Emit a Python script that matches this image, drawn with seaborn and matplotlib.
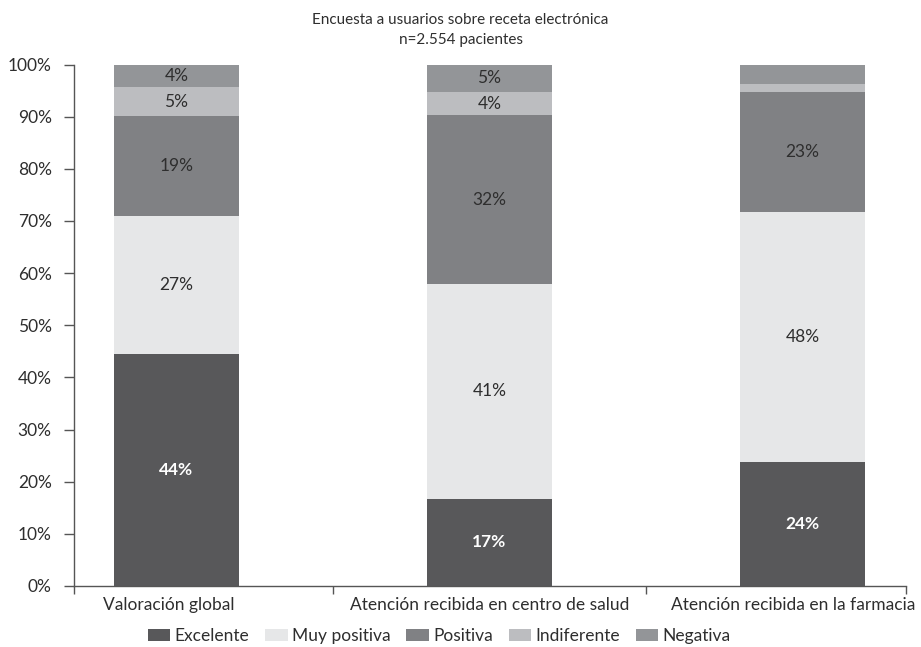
import numpy as np
import pandas as pd
import seaborn as sns
import matplotlib.pyplot as plt
from matplotlib.patches import Patch
from matplotlib.transforms import ScaledTranslation

categories = ["Valoración global",
              "Atención recibida en centro de salud",
              "Atención recibida en la farmacia"]
series = ["Excelente", "Muy positiva", "Positiva", "Indiferente", "Negativa"]
excelente = [44.4, 16.7, 23.8]
muy_positiva = [26.6, 41.2, 47.9]
positiva = [19.2, 32.4, 23.0]
indiferente = [5.4, 4.4, 1.5]
negativa = [4.4, 5.3, 3.8]
y_ticks = [0, 10, 20, 30, 40, 50, 60, 70, 80, 90, 100]
title = "Encuesta a usuarios sobre receta electrónica\nn=2.554 pacientes"

colors = ["#58585a", "#e6e7e8", "#808184", "#bcbdc0", "#939598"]
label_colors = ["white", "#2e2e2e", "#2e2e2e", "#2e2e2e", "#2e2e2e"]
label_weights = ["bold", "normal", "normal", "normal", "normal"]

sns.set_theme(style="white")
plt.rcParams['font.family'] = ['Lato', 'DejaVu Sans']
FS = 12.5

values = [excelente, muy_positiva, positiva, indiferente, negativa]
rows = []
for s, vals in zip(series, values):
    for c, v in zip(categories, vals):
        rows.append({"categoria": c, "serie": s, "valor": v})
df = pd.DataFrame(rows)
df["serie"] = pd.Categorical(df["serie"], categories=series, ordered=True)
df = df.sort_values(["categoria", "serie"])
df["cum"] = df.groupby("categoria", sort=False)["valor"].cumsum()

fig = plt.figure(figsize=(9.21, 6.47), dpi=100)
ax = fig.add_axes([74 / 921, 1 - 586 / 647, (906 - 74) / 921, (586 - 64.5) / 647])

for i in reversed(range(len(series))):
    s = series[i]
    sub = df[df["serie"] == s].set_index("categoria").loc[categories].reset_index()
    sns.barplot(data=sub, x="categoria", y="cum", order=categories, color=colors[i],
                saturation=1, width=0.4, linewidth=0, ax=ax, errorbar=None)
    cont = ax.containers[-1]
    for p, (_, r) in zip(cont.patches, sub.iterrows()):
        if r["valor"] >= 4:
            ax.text(p.get_x() + p.get_width() / 2, r["cum"] - r["valor"] / 2,
                    f"{r['valor']:.0f}%", ha="center", va="center",
                    color=label_colors[i], fontsize=FS, fontweight=label_weights[i])

ax.set_xlim(-0.327, 2.331)
ax.set_ylim(0, 100)
ax.set_yticks(y_ticks)
ax.set_yticklabels([f"{t}%" for t in y_ticks])
ax.set_xlabel("")
ax.set_ylabel("")
ax.set_xticks(range(len(categories)))
ax.set_xticklabels(categories)
ax.set_xticks([-0.327, 0.5, 1.5, 2.331], minor=True)
ax.tick_params(axis="x", which="major", length=0, pad=8, labelsize=FS, labelcolor="#2e2e2e")
ax.tick_params(axis="x", which="minor", length=6, width=1, color="#555555", direction="out", bottom=True)
ax.tick_params(axis="y", length=7, width=1, color="#555555", direction="out", pad=9,
               labelsize=FS, labelcolor="#2e2e2e", left=True)
xl = ax.get_xticklabels()
for idx, dx in [(0, -8), (2, -9)]:
    xl[idx].set_transform(xl[idx].get_transform() + ScaledTranslation(dx / 100, 0, fig.dpi_scale_trans))
for sp in ["top", "right"]:
    ax.spines[sp].set_visible(False)
for sp in ["left", "bottom"]:
    ax.spines[sp].set_color("#555555")
    ax.spines[sp].set_linewidth(1)
ax.grid(False)

fig.text(0.5, 1 - 30 / 647, title, ha="center", va="center", fontsize=11,
         color="#2e2e2e", linespacing=1.55)

handles = [Patch(facecolor=c, edgecolor="none") for c in colors]
fig.legend(handles, series, loc="center", bbox_to_anchor=(0.477, 1 - 636 / 647),
           ncol=5, frameon=False, fontsize=FS, handlelength=1.3, handleheight=0.7,
           handletextpad=0.25, columnspacing=0.9, borderaxespad=0, borderpad=0,
           labelcolor="#2e2e2e")

fig.savefig("out.png", dpi=100)
